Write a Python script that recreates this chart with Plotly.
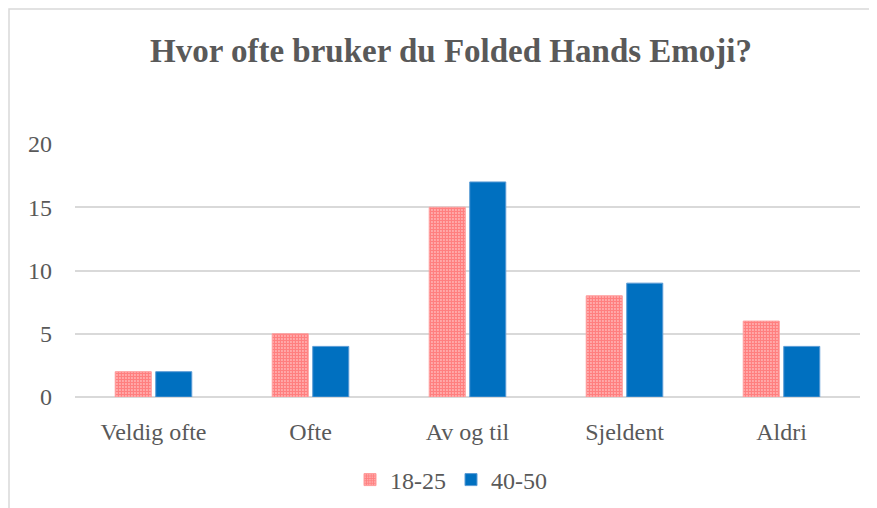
import plotly.graph_objects as go

categories = ["Veldig ofte", "Ofte", "Av og til", "Sjeldent", "Aldri"]
series_names = ["18-25", "40-50"]
values_18_25 = [2, 5, 15, 8, 6]
values_40_50 = [2, 4, 17, 9, 4]
y_ticks = [0, 5, 10, 15, 20]

fig = go.Figure()
fig.add_trace(go.Bar(
    x=categories, y=values_18_25, name=series_names[0],
    marker=dict(color="white",
                line=dict(color="#ff9c9c", width=1),
                pattern=dict(shape=".", fgcolor="#ff0000", bgcolor="white", size=3, solidity=0.8)),
))
fig.add_trace(go.Bar(
    x=categories, y=values_40_50, name=series_names[1],
    marker=dict(color="#0070C0", line=dict(color="#5a9bd5", width=1)),
))

font_family = "Liberation Serif"
W, H = 869, 500
L, R, T, B = 67, 17, 136, 111
pw, ph = W - L - R, H - T - B
fig.update_layout(
    width=W, height=H,
    paper_bgcolor="white", plot_bgcolor="white",
    margin=dict(l=L, r=R, t=T, b=B, autoexpand=False),
    barmode="group", bargap=0.484, bargroupgap=0.11,
    title=dict(text="<b>Hvor ofte bruker du Folded Hands Emoji?</b>",
               x=443 / W, xanchor="center", y=1 - 42 / H, yanchor="middle",
               font=dict(family=font_family, size=33, color="#595959")),
    font=dict(family=font_family, size=24, color="#595959"),
    xaxis=dict(showgrid=False, showline=False, ticks="", ticklabelstandoff=18, automargin=False,
               tickfont=dict(family=font_family, size=24, color="#595959")),
    yaxis=dict(range=[0, 20], tickvals=y_ticks, showgrid=True, gridcolor="#d9d9d9", gridwidth=1.5,
               zeroline=True, zerolinecolor="#d9d9d9", zerolinewidth=1.5, automargin=False,
               ticks="", ticklabelstandoff=22, tickfont=dict(family=font_family, size=24, color="#595959")),
    legend=dict(orientation="h", x=(443 - L) / pw, xanchor="center", y=-(472 - (H - B)) / ph, yanchor="middle",
                font=dict(family=font_family, size=24, color="#595959"), itemwidth=30, traceorder="normal"),
    shapes=[dict(type="rect", xref="paper", yref="paper",
                 x0=(1 - L) / pw, x1=1 + 60 / pw, y0=-1, y1=1 + (T - 1) / ph,
                 line=dict(color="#d9d9d9", width=1.5), fillcolor="rgba(0,0,0,0)", layer="below")],
)

fig.write_html("out.html")
